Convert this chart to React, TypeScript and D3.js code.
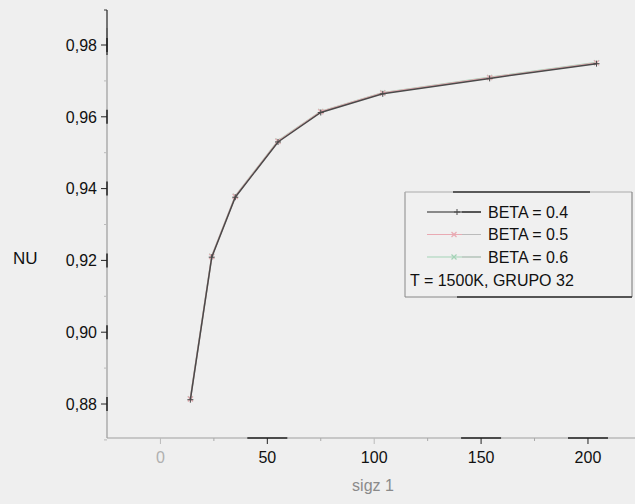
import React from "react";
import * as d3 from "d3";

const sigz = [14, 24, 35, 55, 75, 104, 154, 204];
const beta04 = [0.8812, 0.9209, 0.9376, 0.9530, 0.9612, 0.9664, 0.9707, 0.9748];
const beta05 = [0.8814, 0.9211, 0.9378, 0.9532, 0.9614, 0.9666, 0.9709, 0.9750];
const beta06 = [0.8815, 0.9212, 0.9379, 0.9533, 0.9615, 0.9667, 0.9710, 0.9751];
const yTicks = [0.88, 0.9, 0.92, 0.94, 0.96, 0.98];
const yMinor = [0.87, 0.89, 0.91, 0.93, 0.95, 0.97];
const xTicks = [0, 50, 100, 150, 200];
const xMinor = [25, 75, 125, 175];
const legendLabels = ["BETA = 0.4", "BETA = 0.5", "BETA = 0.6"];
const legendNote = "T = 1500K, GRUPO 32";

const W = 635;
const H = 504;

export default function App() {
  const x = d3.scaleLinear().domain([-25, 222]).range([107, 635]);
  const y = d3.scaleLinear().domain([0.88, 0.98]).range([404, 45]);
  const axisY = 438;
  const axisX = 107;
  const line = d3
    .line<[number, number]>()
    .x((d) => x(d[0]))
    .y((d) => y(d[1]));
  const series = [
    { vals: beta06, color: "#a3d3b6", marker: "x" },
    { vals: beta05, color: "#e9aab3", marker: "x" },
    { vals: beta04, color: "#4a4a4a", marker: "+" },
  ];
  const font = "'Liberation Sans', Arial, sans-serif";
  const mark = (m: string, cx: number, cy: number, color: string, k: string) =>
    m === "+" ? (
      <g key={k} stroke={color} strokeWidth={1}>
        <line x1={cx - 3} x2={cx + 3} y1={cy} y2={cy} />
        <line x1={cx} x2={cx} y1={cy - 3} y2={cy + 3} />
      </g>
    ) : (
      <g key={k} stroke={color} strokeWidth={1.2}>
        <line x1={cx - 2.5} x2={cx + 2.5} y1={cy - 2.5} y2={cy + 2.5} />
        <line x1={cx - 2.5} x2={cx + 2.5} y1={cy + 2.5} y2={cy - 2.5} />
      </g>
    );
  const legX = 405;
  const legY = 192;
  const legW = 227;
  const legH = 105;
  return (
    <svg
      width={W}
      height={H}
      style={{ position: "fixed", left: 0, top: 0, background: "#efefef" }}
      fontFamily={font}
    >
      <rect x={0} y={0} width={W} height={H} fill="#efefef" />
      {/* y axis */}
      <line x1={axisX} x2={axisX} y1={28} y2={axisY} stroke="#9a9a9a" strokeWidth={1.2} />
      <line x1={axisX - 3} x2={axisX} y1={10} y2={10} stroke="#333" />
      <line x1={axisX} x2={axisX} y1={10} y2={55} stroke="#333" strokeWidth={1.3} />
      {yTicks.map((t) => (
        <g key={"yt" + t}>
          <line x1={axisX - 6} x2={axisX} y1={y(t)} y2={y(t)} stroke="#222" />
          <line x1={axisX} x2={axisX} y1={y(t) - 7} y2={y(t) + 7} stroke="#222" strokeWidth={1.5} />
          <text x={97} y={y(t)} dy="0.36em" textAnchor="end" fontSize={16} fill="#111">
            {t.toFixed(2).replace(".", ",")}
          </text>
        </g>
      ))}
      {yMinor.map((t) => (
        <line key={"ym" + t} x1={axisX - 3} x2={axisX} y1={y(t)} y2={y(t)} stroke="#bbb" />
      ))}
      <text x={13} y={258} dy="0.36em" fontSize={17} fill="#111">NU</text>
      {/* x axis */}
      <line x1={axisX} x2={W} y1={axisY} y2={axisY} stroke="#a0a0a0" strokeWidth={1.2} />
      {[50, 150, 200].map((t) => (
        <line key={"xs" + t} x1={x(t) - 20} x2={x(t) + 20} y1={axisY} y2={axisY} stroke="#222" strokeWidth={1.5} />
      ))}
      {xTicks.map((t) => (
        <g key={"xt" + t}>
          <line x1={x(t)} x2={x(t)} y1={axisY} y2={axisY + 6} stroke={t === 0 || t === 100 ? "#bbb" : "#222"} />
          <text
            x={x(t)}
            y={axisY + 25}
            textAnchor="middle"
            fontSize={16}
            fill={t === 0 ? "#b0b0b0" : "#111"}
          >
            {t}
          </text>
        </g>
      ))}
      {xMinor.map((t) => (
        <line key={"xm" + t} x1={x(t)} x2={x(t)} y1={axisY} y2={axisY + 3} stroke="#aaa" />
      ))}
      <text x={373} y={491} textAnchor="middle" fontSize={16} fill="#8a8a8a">sigz 1</text>
      {/* series */}
      {series.map((s, i) => {
        const pts: [number, number][] = sigz.map((v, j) => [v, s.vals[j]]);
        return (
          <g key={"s" + i}>
            <path d={line(pts) || ""} fill="none" stroke={s.color} strokeWidth={1.5} />
            {pts.map((p, j) => mark(s.marker, x(p[0]), y(p[1]), s.color, "m" + i + "-" + j))}
          </g>
        );
      })}
      {/* legend */}
      <g>
        <rect x={legX} y={legY} width={legW} height={legH} fill="#f0f0f0" stroke="none" />
        <line x1={legX} x2={legX} y1={legY} y2={legY + legH} stroke="#888" />
        <line x1={legX} x2={legX + legW} y1={legY} y2={legY} stroke="#aaa" />
        <line x1={453} x2={590} y1={legY} y2={legY} stroke="#333" strokeWidth={1.5} />
        <line x1={legX + legW} x2={legX + legW} y1={legY} y2={legY + legH} stroke="#777" />
        <line x1={legX} x2={legX + legW} y1={legY + legH} y2={legY + legH} stroke="#888" />
        <line x1={457} x2={legX + legW} y1={legY + legH} y2={legY + legH} stroke="#333" strokeWidth={1.5} />
        {legendLabels.map((lab, i) => {
          const s = series[2 - i];
          const ly = 212 + i * 22.5;
          return (
            <g key={"lg" + i}>
              <line x1={427} x2={481} y1={ly} y2={ly} stroke={i === 0 ? "#222" : s.color} />
              <line x1={462} x2={481} y1={ly} y2={ly} stroke={i === 0 ? "#222" : "#bbb"} />
              {mark(s.marker, i === 0 ? 457 : 454, ly, s.color, "lm" + i)}
              <text x={488} y={ly} dy="0.36em" fontSize={16} fill="#111">{lab}</text>
            </g>
          );
        })}
        <text x={410} y={280} dy="0.36em" fontSize={16} fill="#111">{legendNote}</text>
      </g>
    </svg>
  );
}
